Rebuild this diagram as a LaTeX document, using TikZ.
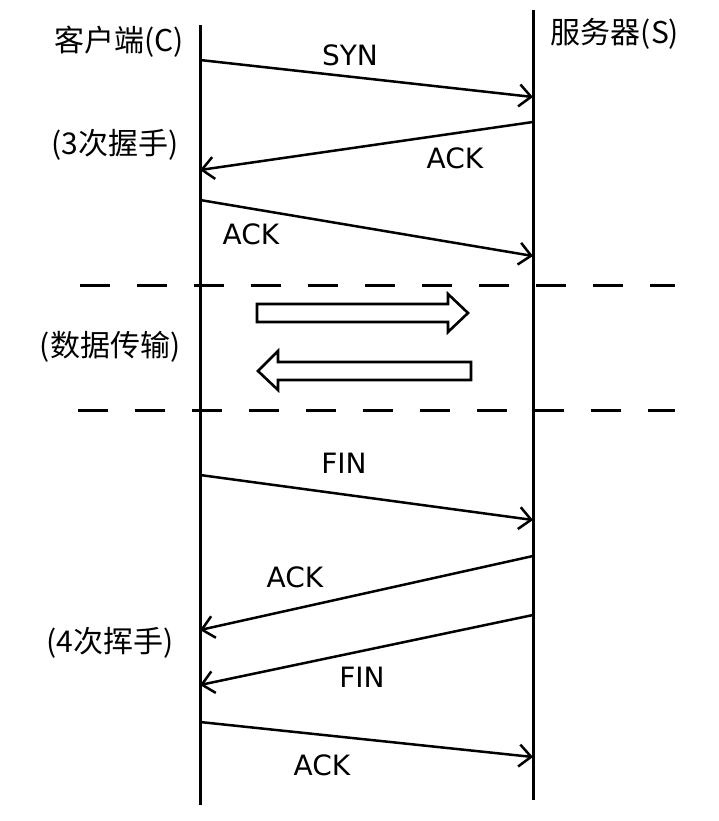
\documentclass[tikz,border=0pt]{standalone}
\usepackage{fontspec}
\setmainfont{DejaVu Sans}
\newfontfamily\cjk{Noto Sans CJK SC}
\usetikzlibrary{arrows.meta}
\begin{document}
\begin{tikzpicture}[x=1pt,y=-1pt,
  life/.style={line width=3pt},
  msg/.style={line width=2.5pt,-{Straight Barb[length=12pt,width=22pt,line width=2.5pt]}},
  sep/.style={line width=3pt,dash pattern=on 30pt off 27pt},
  lbl/.style={font=\fontsize{28}{32}\selectfont,inner sep=0pt},
  zh/.style={font=\cjk\fontsize{30}{34}\selectfont,inner sep=0pt},
  blk/.style={line width=2.6pt,draw=black,fill=white}]
\useasboundingbox (0,0) rectangle (718,821);
% lifelines
\coordinate (ct) at (200,25); \coordinate (cb) at (200,805);
\coordinate (st) at (533,10); \coordinate (sb) at (533,800);
\draw[life] (ct) -- (cb);
\draw[life] (st) -- (sb);
% labels
\node[zh] (client) at (119,42) {客户端(C)};
\node[zh] (server) at (615,34) {服务器(S)};
\node[zh] (three) at (115,145) {(3次握手)};
\node[zh] (data) at (110,347) {(数据传输)};
\node[zh] (four) at (110,643) {(4次挥手)};
% messages
\coordinate (a1) at (200,60);  \coordinate (b1) at (533,97);
\coordinate (a2) at (533,122); \coordinate (b2) at (200,170);
\coordinate (a3) at (200,200); \coordinate (b3) at (533,256);
\coordinate (a4) at (200,475); \coordinate (b4) at (533,520);
\coordinate (a5) at (533,556); \coordinate (b5) at (200,630);
\coordinate (a6) at (533,615); \coordinate (b6) at (200,685);
\coordinate (a7) at (200,722); \coordinate (b7) at (533,757);
\draw[msg] (a1) -- (b1);
\draw[msg] (a2) -- (b2);
\draw[msg] (a3) -- (b3);
\draw[msg] (a4) -- (b4);
\draw[msg] (a5) -- (b5);
\draw[msg] (a6) -- (b6);
\draw[msg] (a7) -- (b7);
\node[lbl] (m1) at (350,55) {SYN};
\node[lbl] (m2) at (455,158) {ACK};
\node[lbl] (m3) at (251,234) {ACK};
\node[lbl] (m4) at (344,463) {FIN};
\node[lbl] (m5) at (295,577) {ACK};
\node[lbl] (m6) at (362,677) {FIN};
\node[lbl] (m7) at (322,765) {ACK};
% separators
\coordinate (s1l) at (80,285); \coordinate (s1r) at (675,285);
\coordinate (s2l) at (78,410); \coordinate (s2r) at (675,410);
\draw[sep] (s1l) -- (s1r);
\draw[sep] (s2l) -- (s2r);
% block arrows
\draw[blk] (257,304) -- (448,304) -- (448,294) -- (468,313) -- (448,332) -- (448,322) -- (257,322) -- cycle;
\draw[blk] (471,362) -- (278,362) -- (278,351) -- (258,371) -- (278,390) -- (278,380) -- (471,380) -- cycle;
\end{tikzpicture}
\end{document}
